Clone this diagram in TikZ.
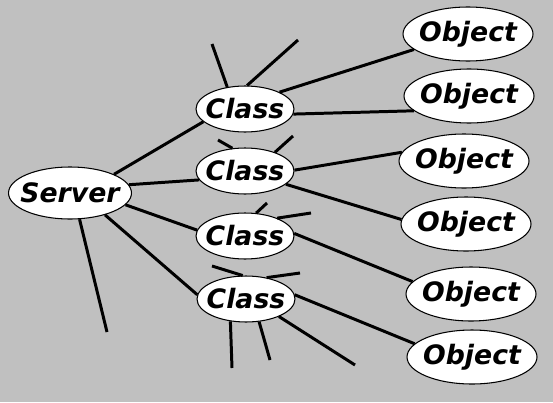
\documentclass[tikz,border=0pt]{standalone}
\usepackage{fontspec}
\newfontfamily\lblfont{DejaVu Sans}
\usepackage{tikz}
\usetikzlibrary{shapes.geometric}
\definecolor{bggray}{RGB}{192,192,192}

\begin{document}
\begin{tikzpicture}[x=0.02cm, y=-0.02cm,
  every node/.style={font=\lblfont\bfseries\itshape\fontsize{15.2}{18}\selectfont},
  oval/.style={ellipse, draw, fill=white, line width=0.6pt, inner sep=-5pt},
  srvbox/.style={oval, minimum width=2.46cm, minimum height=1.04cm},
  clsbox/.style={oval, minimum width=1.96cm, minimum height=0.92cm},
  objbox/.style={oval, minimum width=2.6cm, minimum height=1.08cm},
  link/.style={line width=1.7pt}]
  % Background
  \fill[bggray] (0,0) rectangle (553,402);
  % Server
  \node[srvbox] (srv) at (70,193) {Server};
  % Classes
  \node[clsbox] (c1) at (245,109) {Class};
  \node[clsbox] (c2) at (245,171) {Class};
  \node[clsbox] (c3) at (245,236) {Class};
  \node[clsbox] (c4) at (246,299) {Class};
  % Objects
  \node[objbox] (o1) at (468,34) {Object};
  \node[objbox] (o2) at (469,96) {Object};
  \node[objbox] (o3) at (464,161) {Object};
  \node[objbox] (o4) at (466,224) {Object};
  \node[objbox] (o5) at (471,294) {Object};
  \node[objbox] (o6) at (472,357) {Object};
  % Free ends of the loose lines
  \coordinate (s0) at (107,332);
  \coordinate (a1) at (212,44);
  \coordinate (a2) at (298,40);
  \coordinate (b1) at (218,140);
  \coordinate (b2) at (293,136);
  \coordinate (d1) at (267,203);
  \coordinate (d2) at (311,213);
  \coordinate (e1) at (212,266);
  \coordinate (e2) at (300,273);
  \coordinate (e3) at (232,368);
  \coordinate (e4) at (270,360);
  \coordinate (e5) at (355,365);
  % Server to classes
  \draw[link] (srv.23) -- (c1.197);
  \draw[link] (srv.8) -- (c2.191);
  \draw[link] (srv.348) -- (c3.173);
  \draw[link] (srv.328) -- (c4.175);
  \draw[link] (srv.290) -- (s0);
  % Classes to objects
  \draw[link] (c1.26) -- (o1.196);
  \draw[link] (c1.354) -- (o2.195);
  \draw[link] (c2.1) -- (o3.172);
  \draw[link] (c2.342) -- (o4.176);
  \draw[link] (c3.3) -- (o5.168);
  \draw[link] (c4.5) -- (o6.167);
  % Loose lines
  \draw[link] (c1.129) -- (a1);
  \draw[link] (c1.85) -- (a2);
  \draw[link] (c2.119) -- (b1);
  \draw[link] (c2.32) -- (b2);
  \draw[link] (c3.64) -- (d1);
  \draw[link] (c3.29) -- (d2);
  \draw[link] (c4.98) -- (e1);
  \draw[link] (c4.46) -- (e2);
  \draw[link] (c4.235) -- (e3);
  \draw[link] (c4.300) -- (e4);
  \draw[link] (c4.332) -- (e5);
\end{tikzpicture}
\end{document}
